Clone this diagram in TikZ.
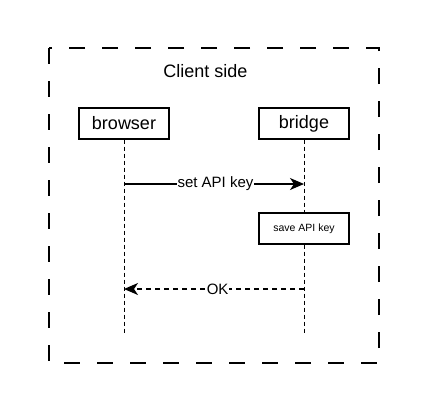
\documentclass[tikz,border=0pt]{standalone}
\usepackage{fontspec}
\setmainfont{Liberation Sans}
\usetikzlibrary{arrows.meta}

\tikzset{
  actorbox/.style={draw, fill=white, line width=1.3pt, minimum width=90pt, minimum height=31pt, inner sep=0pt, font=\fontsize{18}{20}\selectfont},
  lifeline/.style={line width=1pt, dash pattern=on 4pt off 3pt},
  msglabel/.style={fill=white, inner sep=1pt, font=\fontsize{15}{17}\selectfont},
}

\begin{document}
\begin{tikzpicture}[x=1pt, y=-1pt]
\useasboundingbox (0,0) rectangle (428,413);

% client side frame
\draw[line width=1.5pt, dash pattern=on 16pt off 17pt] (49,48) rectangle (379,363);
\node[font=\fontsize{18}{20}\selectfont] (title) at (205.5,71) {Client side};

% participants
\path
(124,123.5) node[actorbox](browser) {browser}
(304,123.5) node[actorbox](bridge) {bridge};
\coordinate (browserend) at (124,333);
\coordinate (bridgeend) at (304,333);
\draw[lifeline] (browser) -- (browserend);
\draw[lifeline] (bridge) -- (bridgeend);

%% set API key
\coordinate (setfrom) at (124,184);
\coordinate (setto) at (304,184);
\draw[-{Stealth[length=14pt, width=12pt, inset=4pt]}, line width=1.3pt] (setfrom) -- node[msglabel, pos=0.508] (setlabel) {set API key} (setto);

\node[actorbox, font=\fontsize{10.5}{12}\selectfont] (save) at (304,228.5) {save API key};

%% answer
\coordinate (okfrom) at (304,289);
\coordinate (okto) at (124,289);
\draw[-{Stealth[length=14pt, width=12pt, inset=4pt]}, line width=1.3pt, dash pattern=on 5pt off 4pt] (okfrom) -- node[msglabel, pos=0.48] (oklabel) {OK} (okto);

\end{tikzpicture}
\end{document}
